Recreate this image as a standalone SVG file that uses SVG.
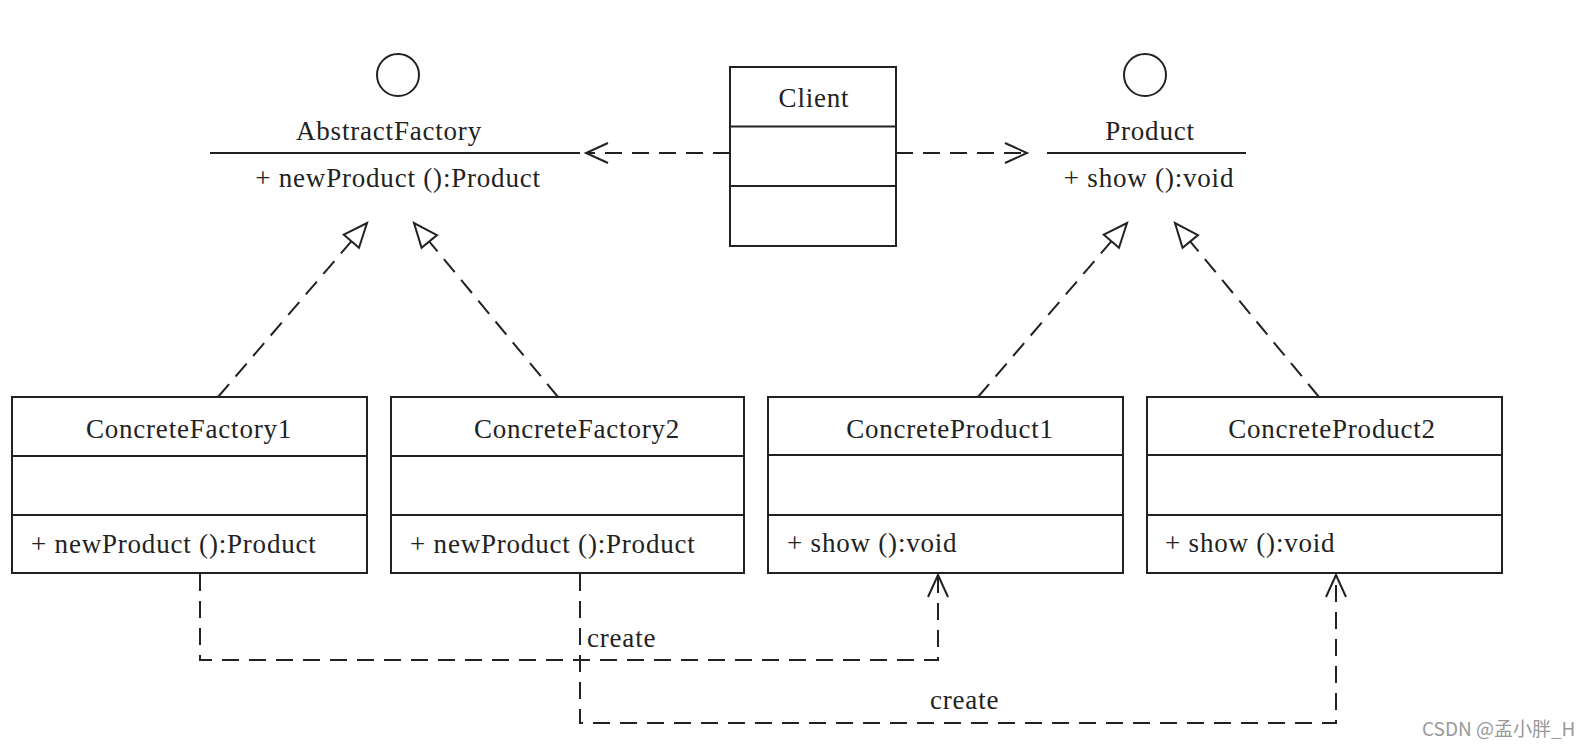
<svg xmlns="http://www.w3.org/2000/svg" width="1590" height="750" viewBox="0 0 1590 750">
<style>
text{font-family:"Liberation Serif","Times New Roman",serif;font-size:27px;fill:#222;letter-spacing:0.8px}
.c{text-anchor:middle}
.box{fill:#fff;stroke:#222;stroke-width:2}
.ln{stroke:#222;stroke-width:2;fill:none}
.dash{stroke:#222;stroke-width:2;fill:none;stroke-dasharray:17 10}
.wm{font-family:"Noto Sans CJK SC","Noto Sans",sans-serif;font-size:19px;fill:#999;letter-spacing:0}
</style>
<defs>
<marker id="tri" markerUnits="userSpaceOnUse" markerWidth="30" markerHeight="26" viewBox="-2 -2 30 26" refX="24" refY="10" orient="auto">
<path d="M0,0 L24,10 L0,20 Z" fill="#fff" stroke="#222" stroke-width="2"/>
</marker>
<marker id="open" markerUnits="userSpaceOnUse" markerWidth="30" markerHeight="26" viewBox="-2 -2 30 26" refX="22" refY="10" orient="auto">
<path d="M0,0 L22,10 L0,20" fill="none" stroke="#222" stroke-width="2"/>
</marker>
</defs>
<rect width="1590" height="750" fill="#fff"/>

<g id="connectors">
<path class="dash" d="M218,397 L367,223" marker-end="url(#tri)"/>
<path class="dash" d="M558,397 L414,223" marker-end="url(#tri)"/>
<path class="dash" d="M978,397 L1127,223" marker-end="url(#tri)"/>
<path class="dash" d="M1319,397 L1175,223" marker-end="url(#tri)"/>
<path class="dash" d="M730,153 L586,153" marker-end="url(#open)"/>
<path class="dash" d="M896,153 L1027,153" marker-end="url(#open)"/>
<path class="dash" d="M200,574 V660 H938 V575" marker-end="url(#open)"/>
<path class="dash" d="M580,574 V723 H1336 V575" marker-end="url(#open)"/>
<text x="587" y="647">create</text>
<text x="930" y="709">create</text>
</g>

<g id="AbstractFactory">
<circle cx="398" cy="75" r="21" class="ln"/>
<text class="c" x="389" y="140">AbstractFactory</text>
<line class="ln" x1="210" y1="153" x2="580" y2="153"/>
<text class="c" x="398" y="187">+ newProduct ():Product</text>
</g>

<g id="Client">
<rect class="box" x="730" y="67" width="166" height="179"/>
<line class="ln" x1="730" y1="126.5" x2="896" y2="126.5"/>
<line class="ln" x1="730" y1="186" x2="896" y2="186"/>
<text class="c" x="814" y="107">Client</text>
</g>

<g id="Product">
<circle cx="1145" cy="75" r="21" class="ln"/>
<text class="c" x="1150" y="140">Product</text>
<line class="ln" x1="1047" y1="153" x2="1246" y2="153"/>
<text class="c" x="1149" y="187">+ show ():void</text>
</g>

<g id="ConcreteFactory1">
<rect class="box" x="12" y="397" width="355" height="176"/>
<line class="ln" x1="12" y1="456" x2="367" y2="456"/>
<line class="ln" x1="12" y1="515" x2="367" y2="515"/>
<text class="c" x="189" y="438">ConcreteFactory1</text>
<text x="31" y="553">+ newProduct ():Product</text>
</g>

<g id="ConcreteFactory2">
<rect class="box" x="391" y="397" width="353" height="176"/>
<line class="ln" x1="391" y1="456" x2="744" y2="456"/>
<line class="ln" x1="391" y1="515" x2="744" y2="515"/>
<text class="c" x="577" y="438">ConcreteFactory2</text>
<text x="410" y="553">+ newProduct ():Product</text>
</g>

<g id="ConcreteProduct1">
<rect class="box" x="768" y="397" width="355" height="176"/>
<line class="ln" x1="768" y1="455" x2="1123" y2="455"/>
<line class="ln" x1="768" y1="515" x2="1123" y2="515"/>
<text class="c" x="950" y="438">ConcreteProduct1</text>
<text x="787" y="552">+ show ():void</text>
</g>

<g id="ConcreteProduct2">
<rect class="box" x="1147" y="397" width="355" height="176"/>
<line class="ln" x1="1147" y1="455" x2="1502" y2="455"/>
<line class="ln" x1="1147" y1="515" x2="1502" y2="515"/>
<text class="c" x="1332" y="438">ConcreteProduct2</text>
<text x="1165" y="552">+ show ():void</text>
</g>

<text class="wm" x="1422" y="736">CSDN @孟小胖_H</text>
</svg>
